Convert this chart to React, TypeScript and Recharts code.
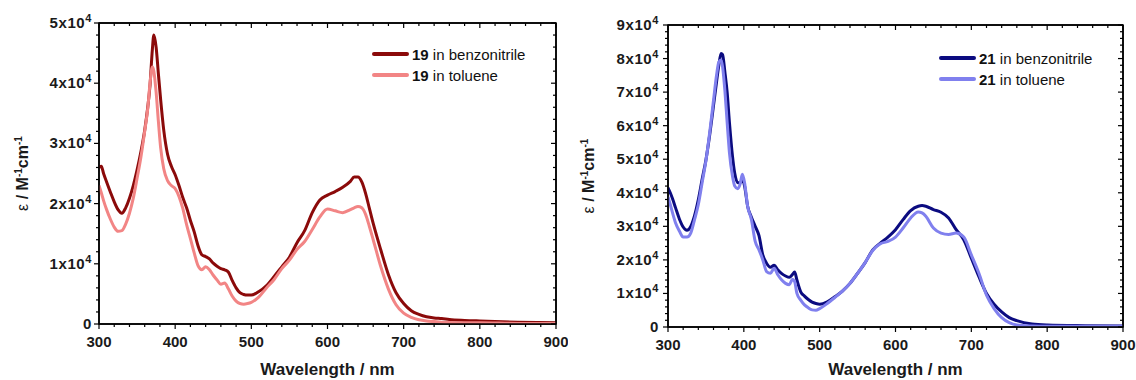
import React from 'react';
import { LineChart, Line, XAxis, YAxis, Legend, ReferenceArea } from 'recharts';

// absorbance spectra, epsilon in units of 10^4 M^-1 cm^-1
const wl19 = [
    300, 303, 306, 310, 315, 320, 325, 330, 335, 340, 345, 350, 355, 360, 364, 367, 370, 372, 375, 378,
    381, 385, 390, 395, 400, 405, 410, 415, 420, 425, 430, 435, 440, 445, 450, 455, 460, 465, 470, 475,
    480, 485, 490, 495, 500, 510, 520, 530, 540, 550, 560, 570, 580, 590, 600, 610, 620, 630, 635, 640,
    645, 650, 655, 660, 670, 680, 690, 700, 710, 720, 730, 740, 750, 760, 780, 800, 850, 900,
];
const benz19 = [
    2.6, 2.62, 2.5, 2.36, 2.19, 2.03, 1.9, 1.84, 1.93, 2.09, 2.3, 2.56, 2.86, 3.22, 3.6, 3.97, 4.55, 4.8, 4.6, 4.15,
    3.72, 3.22, 2.82, 2.62, 2.48, 2.3, 2.1, 1.93, 1.72, 1.53, 1.3, 1.15, 1.12, 1.08, 1.01, 0.96, 0.92, 0.9, 0.86, 0.72,
    0.6, 0.52, 0.49, 0.48, 0.48, 0.54, 0.64, 0.79, 0.95, 1.11, 1.35, 1.55, 1.85, 2.06, 2.14, 2.2, 2.27, 2.37, 2.44, 2.44,
    2.36, 2.17, 1.92, 1.67, 1.23, 0.82, 0.52, 0.34, 0.22, 0.16, 0.12, 0.1, 0.09, 0.075, 0.06, 0.05, 0.03, 0.02,
];
const tol19 = [
    2.3, 2.18, 2.05, 1.9, 1.74, 1.61, 1.54, 1.55, 1.66, 1.84, 2.09, 2.42, 2.77, 3.2, 3.58, 4.0, 4.27, 4.2, 3.85, 3.36,
    2.92, 2.58, 2.38, 2.3, 2.25, 2.12, 1.92, 1.65, 1.42, 1.18, 0.97, 0.9, 0.95, 0.9, 0.81, 0.73, 0.66, 0.68, 0.58, 0.46,
    0.38, 0.34, 0.33, 0.34, 0.36, 0.45, 0.6, 0.74, 0.92, 1.06, 1.24, 1.37, 1.57, 1.78, 1.91, 1.88, 1.85, 1.9, 1.93, 1.95,
    1.93, 1.82, 1.62, 1.4, 0.95, 0.58, 0.32, 0.18, 0.11, 0.07, 0.05, 0.04, 0.03, 0.025, 0.02, 0.02, 0.01, 0.01,
];

const wl21 = [
    300, 303, 306, 310, 315, 320, 325, 330, 335, 340, 345, 350, 355, 360, 364, 367, 370, 372, 375, 378,
    381, 385, 388, 392, 395, 398, 401, 405, 410, 415, 420, 425, 430, 435, 440, 445, 450, 455, 460, 464,
    467, 470, 475, 480, 485, 490, 495, 500, 510, 520, 530, 540, 550, 560, 570, 580, 590, 600, 610, 620,
    630, 635, 640, 650, 660, 670, 680, 690, 700, 710, 720, 730, 740, 750, 760, 780, 800, 850, 900,
];
const benz21 = [
    4.15, 4.0, 3.82, 3.55, 3.22, 2.98, 2.88, 3.0, 3.32, 3.8, 4.4, 4.98, 5.73, 6.6, 7.3, 7.8, 8.15, 8.12, 7.6, 7.0,
    6.1, 5.1, 4.58, 4.3, 4.3, 4.4, 4.2, 3.6, 3.27, 3.0, 2.72, 2.15, 1.9, 1.78, 1.84, 1.7, 1.59, 1.52, 1.48, 1.56,
    1.64, 1.4, 1.05, 0.92, 0.82, 0.74, 0.7, 0.68, 0.75, 0.9, 1.07, 1.3, 1.6, 1.92, 2.3, 2.5, 2.68, 2.9, 3.2, 3.47,
    3.6, 3.62, 3.6, 3.5, 3.42, 3.25, 2.9, 2.6, 2.05, 1.5, 1.0, 0.68, 0.45, 0.28, 0.19, 0.09, 0.06, 0.04, 0.03,
];
const tol21 = [
    3.88, 3.65, 3.4, 3.1, 2.86, 2.68, 2.68, 2.8, 3.2, 3.65, 4.3, 4.95, 5.8, 6.75, 7.5, 7.9, 7.96, 7.75, 7.05, 6.1,
    5.2, 4.5, 4.2, 4.12, 4.25, 4.55, 4.3, 3.6, 3.2, 2.55, 2.3, 2.0, 1.65, 1.6, 1.75, 1.55, 1.4, 1.3, 1.26, 1.42,
    1.35, 1.0, 0.8, 0.66, 0.57, 0.51, 0.5, 0.55, 0.7, 0.88, 1.07, 1.3, 1.6, 1.92, 2.28, 2.48, 2.55, 2.68, 2.95, 3.25,
    3.43, 3.4, 3.3, 2.95, 2.8, 2.76, 2.8, 2.68, 2.15, 1.6, 0.95, 0.55, 0.28, 0.13, 0.06, 0.03, 0.02, 0.02, 0.02,
];

const xMajor = [300, 400, 500, 600, 700, 800, 900];
const yMajor19 = [0, 1, 2, 3, 4, 5];
const yMajor21 = [0, 1, 2, 3, 4, 5, 6, 7, 8, 9];

const FONT = 'Arial, "Liberation Sans", Helvetica, sans-serif';
const INK = '#1a1a1a';
const CHART_W = 568;
const CHART_H = 380;
const FRAME = 1.5;

// minor ticks: 5 per major step
const withMinors = (major: number[]) => {
    const out: number[] = [];
    for (let i = 0; i < major.length - 1; i++) {
        const step = (major[i + 1] - major[i]) / 5;
        for (let k = 0; k < 5; k++) out.push(+(major[i] + k * step).toFixed(4));
    }
    out.push(major[major.length - 1]);
    return out;
};

const BottomTick = (props: any) => {
    const { x, y, payload } = props;
    const v = payload.value;
    const major = xMajor.includes(v);
    return (
        <g>
            <line x1={x} x2={x} y1={y} y2={y + (major ? 5 : 3)} stroke="#000" strokeWidth={1.2} />
            {major && (
                <text x={x} y={y + 22.5} textAnchor="middle" fontFamily={FONT} fontWeight="bold" fontSize={15} fill={INK}>
                    {v}
                </text>
            )}
        </g>
    );
};

const makeLeftTick = (gap: number, major: number[]) => (props: any) => {
    const { x, y, payload } = props;
    const v = payload.value;
    const isMaj = major.includes(v);
    return (
        <g>
            <line x1={x} x2={x - (isMaj ? 5 : 3)} y1={y} y2={y} stroke="#000" strokeWidth={1.2} />
            {isMaj && (
                <text
                    x={x - gap}
                    y={y + 5}
                    textAnchor="end"
                    fontFamily={FONT}
                    fontWeight="bold"
                    fontSize={15}
                    letterSpacing={0.6}
                    fill={INK}
                >
                    {v === 0 ? '0' : `${v}x10`}
                    {v !== 0 && <tspan dy={-6} fontSize={11}>4</tspan>}
                </text>
            )}
        </g>
    );
};

const YTitle = (props: any) => {
    const { viewBox, dx } = props;
    const cx = viewBox.x + dx;
    const cy = viewBox.y + viewBox.height / 2;
    return (
        <text
            x={cx}
            y={cy + 6}
            transform={`rotate(-90 ${cx} ${cy})`}
            textAnchor="middle"
            fontFamily={FONT}
            fontWeight="bold"
            fontSize={16}
            fill={INK}
        >
            <tspan fontWeight="normal">ε</tspan> / M<tspan dy={-6} fontSize={10}>-1</tspan>
            <tspan dy={6}>cm</tspan><tspan dy={-6} fontSize={10}>-1</tspan>
        </text>
    );
};

const makeXTitle = (dy: number) => (props: any) => {
    const { viewBox } = props;
    return (
        <text
            x={viewBox.x + viewBox.width / 2}
            y={viewBox.y + dy}
            textAnchor="middle"
            fontFamily={FONT}
            fontWeight="bold"
            fontSize={17}
            fill={INK}
        >
            Wavelength / nm
        </text>
    );
};

const LegendBox = ({ compound, items }: { compound: string; items: { label: string; color: string }[] }) => (
    <div style={{ fontFamily: FONT, fontSize: 15, color: '#111' }}>
        {items.map((it) => (
            <div key={it.label} style={{ display: 'flex', alignItems: 'center', height: 21 }}>
                <div style={{ width: 37, height: 3.5, background: it.color, borderRadius: 2 }} />
                <span style={{ marginLeft: 3, whiteSpace: 'nowrap' }}>
                    <b>{compound}</b> {it.label}
                </span>
            </div>
        ))}
    </div>
);

// top and right edges of the box, with inward mirrored ticks (Origin style)
const MirrorFrame = ({ x0, y0, w, h, xTicks, xMajorTicks, yTicks, yMajorTicks, yMax }: any) => {
    const xMin = xMajorTicks[0];
    const xMax = xMajorTicks[xMajorTicks.length - 1];
    const sx = (v: number) => x0 + ((v - xMin) / (xMax - xMin)) * w;
    const sy = (v: number) => y0 + h - (v / yMax) * h;
    return (
        <svg
            width={CHART_W}
            height={CHART_H}
            style={{ position: 'absolute', left: 0, top: 0, pointerEvents: 'none', overflow: 'visible' }}
        >
            <line x1={x0} x2={x0 + w} y1={y0} y2={y0} stroke="#000" strokeWidth={FRAME} />
            <line x1={x0 + w} x2={x0 + w} y1={y0} y2={y0 + h} stroke="#000" strokeWidth={FRAME} />
            {xTicks.map((v: number) => (
                <line
                    key={`x${v}`}
                    x1={sx(v)}
                    x2={sx(v)}
                    y1={y0}
                    y2={y0 + (xMajorTicks.includes(v) ? 5 : 3)}
                    stroke="#000"
                    strokeWidth={1.2}
                />
            ))}
            {yTicks.map((v: number) => (
                <line
                    key={`y${v}`}
                    x1={x0 + w}
                    x2={x0 + w - (yMajorTicks.includes(v) ? 5 : 3)}
                    y1={sy(v)}
                    y2={sy(v)}
                    stroke="#000"
                    strokeWidth={1.2}
                />
            ))}
        </svg>
    );
};

interface PanelProps {
    wl: number[];
    benz: number[];
    tol: number[];
    compound: string;
    colors: [string, string];
    yMajor: number[];
    left: number;
    margin: { top: number; right: number; bottom: number; left: number };
    yWidth: number;
    xHeight: number;
    tickGap: number;
    titleDx: number;
    titleDy: number;
    legendPos: { left: number; top: number };
}

const Panel: React.FC<PanelProps> = ({
    wl, benz, tol, compound, colors, yMajor, left, margin, yWidth, xHeight, tickGap, titleDx, titleDy, legendPos,
}) => {
    const data = wl.map((w, i) => ({ wl: w, benz: benz[i], tol: tol[i] }));
    const xTicks = withMinors(xMajor);
    const yTicks = withMinors(yMajor);
    const xMin = xMajor[0];
    const xMax = xMajor[xMajor.length - 1];
    const yMax = yMajor[yMajor.length - 1];
    const axisLine = { stroke: '#000', strokeWidth: FRAME };
    const plotW = CHART_W - margin.left - margin.right - yWidth;
    const plotH = CHART_H - margin.top - margin.bottom - xHeight;
    const XTitle = makeXTitle(titleDy);

    return (
        <div style={{ position: 'absolute', left, top: 0, width: CHART_W, height: CHART_H }}>
            <LineChart width={CHART_W} height={CHART_H} data={data} margin={margin}>
                <XAxis
                    dataKey="wl"
                    type="number"
                    domain={[xMin, xMax]}
                    allowDataOverflow
                    ticks={xTicks}
                    interval={0}
                    height={xHeight}
                    tickSize={0}
                    tickMargin={0}
                    tickLine={false}
                    axisLine={axisLine}
                    tick={BottomTick}
                    label={<XTitle />}
                />
                <YAxis
                    type="number"
                    domain={[0, yMax]}
                    allowDataOverflow
                    ticks={yTicks}
                    interval={0}
                    width={yWidth}
                    tickSize={0}
                    tickMargin={0}
                    tickLine={false}
                    axisLine={axisLine}
                    tick={makeLeftTick(tickGap, yMajor)}
                    label={<YTitle dx={titleDx} />}
                />
                {/* box around the plot area */}
                <ReferenceArea
                    x1={xMin}
                    x2={xMax}
                    y1={0}
                    y2={yMax}
                    fill="none"
                    fillOpacity={0}
                    stroke="#000"
                    strokeWidth={FRAME}
                    strokeOpacity={1}
                    ifOverflow="visible"
                />
                <Line
                    dataKey="benz"
                    name={`${compound} in benzonitrile`}
                    type="monotone"
                    stroke={colors[0]}
                    strokeWidth={3}
                    dot={false}
                    isAnimationActive={false}
                />
                <Line
                    dataKey="tol"
                    name={`${compound} in toluene`}
                    type="monotone"
                    stroke={colors[1]}
                    strokeWidth={3}
                    dot={false}
                    isAnimationActive={false}
                />
                <Legend
                    layout="vertical"
                    align="center"
                    verticalAlign="middle"
                    wrapperStyle={{ left: legendPos.left, top: legendPos.top, width: 'auto' }}
                    content={() => (
                        <LegendBox
                            compound={compound}
                            items={[
                                { label: 'in benzonitrile', color: colors[0] },
                                { label: 'in toluene', color: colors[1] },
                            ]}
                        />
                    )}
                />
            </LineChart>
            <MirrorFrame
                x0={margin.left + yWidth}
                y0={margin.top}
                w={plotW}
                h={plotH}
                xTicks={xTicks}
                xMajorTicks={xMajor}
                yTicks={yTicks}
                yMajorTicks={yMajor}
                yMax={yMax}
            />
        </div>
    );
};

export default function App() {
    return (
        <div style={{ position: 'absolute', left: 0, top: 0, width: 1136, height: 380, background: '#fff' }}>
            <Panel
                wl={wl19}
                benz={benz19}
                tol={tol19}
                compound="19"
                colors={['#8B0A0A', '#F28585']}
                yMajor={yMajor19}
                left={0}
                margin={{ top: 23, right: 12, bottom: 0, left: 0 }}
                yWidth={99}
                xHeight={56}
                tickGap={7}
                titleDx={22}
                titleDy={51}
                legendPos={{ left: 372, top: 43.5 }}
            />
            <Panel
                wl={wl21}
                benz={benz21}
                tol={tol21}
                compound="21"
                colors={['#0B0B80', '#8080EE']}
                yMajor={yMajor21}
                left={568}
                margin={{ top: 25, right: 13, bottom: 0, left: 0 }}
                yWidth={100}
                xHeight={53}
                tickGap={9}
                titleDx={20}
                titleDy={48}
                legendPos={{ left: 371, top: 47.5 }}
            />
        </div>
    );
}
